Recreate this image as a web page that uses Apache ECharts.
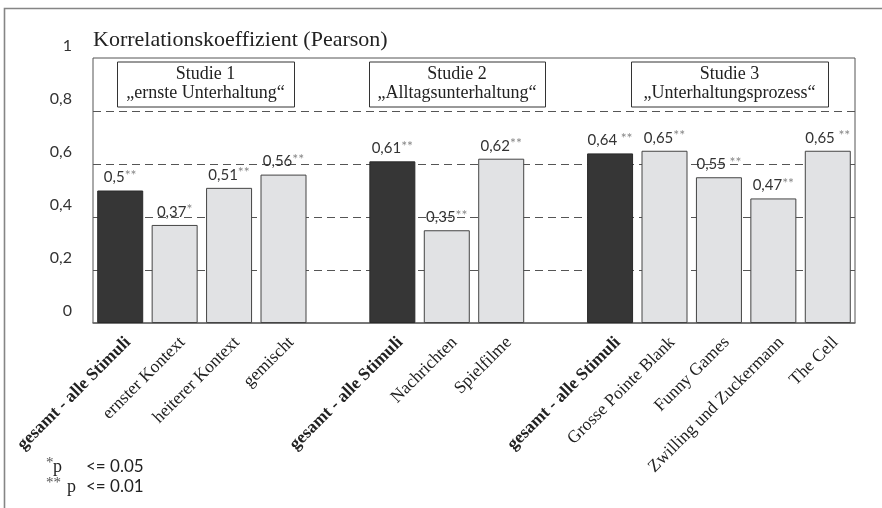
<!DOCTYPE html>
<html>
<head>
<meta charset="utf-8">
<script src="https://cdn.jsdelivr.net/npm/echarts@6/dist/echarts.min.js"></script>
<style>
html,body{margin:0;padding:0;background:#fff;}
#chart{width:882px;height:508px;}
</style>
</head>
<body>
<div id="chart"></div>
<script>
// ---- data ----
const categories = ['gesamt - alle Stimuli', 'ernster Kontext', 'heiterer Kontext', 'gemischt', '',
  'gesamt - alle Stimuli', 'Nachrichten', 'Spielfilme', '',
  'gesamt - alle Stimuli', 'Grosse Pointe Blank', 'Funny Games', 'Zwilling und Zuckermann', 'The Cell'];
const values = [0.5, 0.37, 0.51, 0.56, null, 0.61, 0.35, 0.62, null, 0.64, 0.65, 0.55, 0.47, 0.65];
const significance = ['**', '*', '**', '**', '', '**', '**', '**', '', ' **', '**', ' **', '**', ' **'];
const isTotal = [true, false, false, false, false, true, false, false, false, true, false, false, false, false];
const yTicks = [0, 0.2, 0.4, 0.6, 0.8, 1];
const studies = [
  ['Studie 1', '„ernste Unterhaltung“'],
  ['Studie 2', '„Alltagsunterhaltung“'],
  ['Studie 3', '„Unterhaltungsprozess“']
];
const title = 'Korrelationskoeffizient (Pearson)';
const footnoteStars = ['*', '**'];
const footnoteP = ['p', 'p'];
const footnoteLevels = ['<= 0.05', '<= 0.01'];

// ---- chart ----
const SERIF = '"Liberation Serif", "DejaVu Serif", serif';
const SANS = 'Lato, "Open Sans", sans-serif';
const fmt = v => String(v).replace('.', ',');

const chart = echarts.init(document.getElementById('chart'));

const studyBoxes = [[117, 294], [369, 545], [631, 828]];
const graphics = [
  { type: 'polyline', shape: { points: [[4.5, 520], [4.5, 8.5], [890, 8.5]] },
    style: { stroke: '#858585', lineWidth: 1.6, fill: null }, z: 10 }
];
studies.forEach((s, i) => {
  const [x0, x1] = studyBoxes[i];
  graphics.push({ type: 'rect', shape: { x: x0 + 0.5, y: 62, width: x1 - x0, height: 45 },
    style: { fill: '#fff', stroke: '#333', lineWidth: 1 }, z: 10 });
  graphics.push({ type: 'text', x: (x0 + x1) / 2, y: 84, z: 11,
    style: { text: s[0] + '\n' + s[1], fill: '#222', font: '18px ' + SERIF,
      align: 'center', verticalAlign: 'middle', lineHeight: 19 } });
});
footnoteLevels.forEach((lvl, i) => {
  const y = 467 + i * 20;
  graphics.push({ type: 'text', x: 46, y: y - 4, z: 11,
    style: { text: footnoteStars[i], fill: '#555', font: '15px ' + SERIF, verticalAlign: 'middle' } });
  graphics.push({ type: 'text', x: i === 0 ? 53 : 67, y: y, z: 11,
    style: { text: footnoteP[i], fill: '#222', font: '18px ' + SERIF, verticalAlign: 'middle' } });
  graphics.push({ type: 'text', x: 86, y: y, z: 11,
    style: { text: lvl, fill: '#222', font: '17px ' + SANS, verticalAlign: 'middle' } });
});

const option = {
  animation: false,
  backgroundColor: '#fff',
  title: {
    text: title, left: 88, top: 24,
    textStyle: { fontFamily: SERIF, fontWeight: 'normal', fontSize: 22, color: '#222' }
  },
  grid: { left: 93, right: 27, top: 58, bottom: 185, show: true, borderColor: '#555', borderWidth: 1, containLabel: false },
  xAxis: {
    type: 'category', data: categories,
    axisTick: { show: false },
    axisLine: { lineStyle: { color: '#666', width: 1.5 } },
    axisLabel: {
      rotate: 45, interval: 0, margin: 9, color: '#222',
      fontFamily: SERIF, fontSize: 17.5,
      align: 'right', verticalAlign: 'top', lineHeight: 22,
      formatter: (v, i) => isTotal[i] ? `{b|${v}}` : v,
      rich: { b: { fontFamily: SERIF, fontSize: 17.5, fontWeight: 'bold', color: '#222', lineHeight: 22 } }
    }
  },
  yAxis: {
    type: 'value', min: 0, max: 1, interval: 0.2,
    axisLine: { show: false }, axisTick: { show: false },
    axisLabel: {
      margin: 21, color: '#333', fontFamily: SANS, fontSize: 16,
      verticalAlign: 'bottom', lineHeight: 24,
      formatter: v => yTicks.includes(+v.toFixed(1)) ? fmt(+v.toFixed(1)) : ''
    },
    splitLine: { lineStyle: { color: ['rgba(0,0,0,0)', '#555', '#555', '#555', '#555', 'rgba(0,0,0,0)'], type: [8, 5], width: 1 } }
  },
  series: [{
    type: 'bar',
    barWidth: 46,
    data: values.map((v, i) => ({
      value: v,
      itemStyle: isTotal[i]
        ? { color: '#363636', borderColor: '#2a2a2a', borderWidth: 1 }
        : { color: '#e1e2e4', borderColor: '#444', borderWidth: 1 }
    })),
    label: {
      show: true, position: 'top', distance: 4,
      formatter: p => p.value == null ? '' : `{v|${fmt(p.value)}}{s|${significance[p.dataIndex]}}`,
      rich: {
        v: { fontFamily: SANS, fontSize: 15, color: '#333', lineHeight: 18 },
        s: { fontFamily: SANS, fontSize: 14, color: '#888', verticalAlign: 'top', lineHeight: 18 }
      }
    }
  }],
  graphic: graphics
};
chart.setOption(option);
</script>
</body>
</html>
